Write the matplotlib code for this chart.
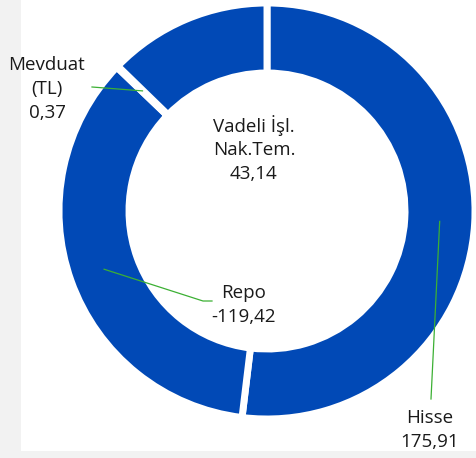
import numpy as np
import matplotlib.pyplot as plt
from matplotlib.patches import Rectangle

labels = ['Hisse', 'Repo', 'Mevduat\n(TL)', 'Vadeli İşl.\nNak.Tem.']
values = [175.91, -119.42, 0.37, 43.14]
value_text = ['175,91', '-119,42', '0,37', '43,14']

W, H = 476, 458
fig = plt.figure(figsize=(W / 100, H / 100), dpi=100, facecolor='#f2f2f2')
ax = fig.add_axes([0, 0, 1, 1])
ax.add_patch(Rectangle((21, 7), W - 21, H - 7, facecolor='white', edgecolor='none', zorder=0))

blue = '#0149b6'
green = '#3cb034'
cx, cy, R = 267, H - 211, 208
ring = 70

sizes = np.abs(values)
wedges, _ = ax.pie(sizes, colors=[blue] * 4, startangle=90, counterclock=False,
                   center=(cx, cy), radius=R, frame=True,
                   wedgeprops=dict(width=ring, edgecolor='white', linewidth=5))
ax.set_xlim(0, W)
ax.set_ylim(0, H)
ax.set_aspect('equal')
ax.axis('off')

# label positions (image pixel coords) and leader line bends
label_pos = [(430, 430), (244, 305), (47, 89), (254, 149)]
leader_end = [[(431, 399)], [(203, 301), (212, 301)], [(92, 87)], None]

font = dict(family=['Open Sans', 'DejaVu Sans'], fontsize=13.5, color='#1a1a1a')
for w, lab, vt, pos, ends in zip(wedges, labels, value_text, label_pos, leader_end):
    ax.text(pos[0], H - pos[1], lab + '\n' + vt, ha='center', va='center',
            linespacing=1.42, **font)
    if ends is None:
        continue
    mid = np.deg2rad((w.theta1 + w.theta2) / 2)
    rm = R - ring / 2
    xs = [cx + rm * np.cos(mid)] + [e[0] for e in ends]
    ys = [cy + rm * np.sin(mid)] + [H - e[1] for e in ends]
    ax.plot(xs, ys, color=green, lw=0.9, zorder=5)

fig.savefig('out.png', dpi=100, facecolor=fig.get_facecolor())
